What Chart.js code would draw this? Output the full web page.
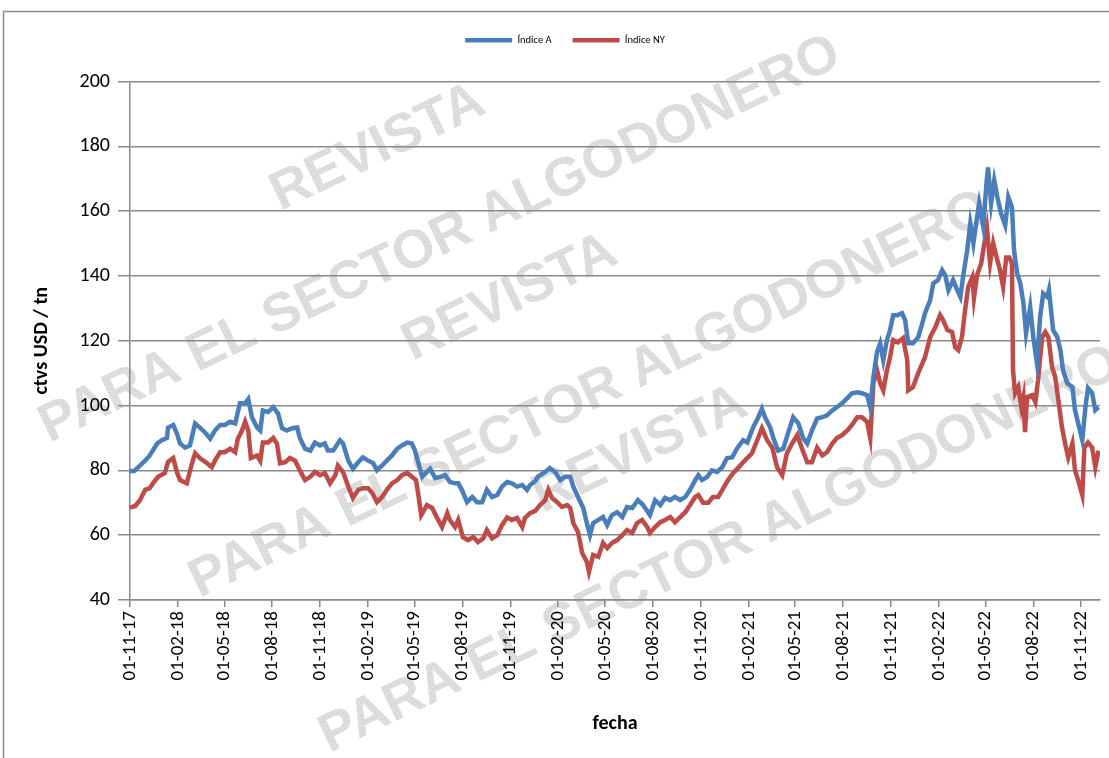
<!DOCTYPE html>
<html>
<head>
<meta charset="utf-8">
<script src="https://cdn.jsdelivr.net/npm/chart.js@4/dist/chart.umd.min.js"></script>
<style>
  body { margin: 0; background: #fff; }
  #wrap { width: 1109px; height: 758px; position: relative; }
</style>
</head>
<body>
<div id="wrap"><canvas id="cotizaciones"></canvas></div>
<script>
// días desde 01-11-17 y valores (ctvs USD)
const diasA = [0, 8, 19, 29, 38, 52, 61, 71, 73, 83, 90, 96, 106, 115, 125, 134, 144, 154, 163, 173, 182, 192, 202, 211, 221, 227, 234, 244, 250, 255, 265, 275, 284, 292, 301, 311, 321, 326, 336, 346, 355, 365, 374, 380, 390, 403, 409, 419, 428, 438, 447, 457, 467, 474, 484, 493, 503, 513, 522, 532, 541, 547, 553, 561, 570, 576, 586, 595, 605, 614, 624, 630, 637, 647, 657, 666, 676, 685, 695, 705, 714, 724, 733, 743, 753, 762, 768, 778, 783, 787, 797, 806, 816, 826, 835, 845, 851, 860, 870, 877, 883, 889, 899, 908, 916, 925, 935, 945, 954, 964, 975, 985, 998, 1008, 1018, 1027, 1037, 1046, 1056, 1066, 1075, 1085, 1091, 1098, 1108, 1117, 1127, 1137, 1146, 1156, 1165, 1177, 1185, 1196, 1206, 1213, 1219, 1229, 1235, 1244, 1254, 1263, 1273, 1283, 1292, 1300, 1309, 1319, 1329, 1338, 1348, 1357, 1367, 1377, 1386, 1396, 1405, 1415, 1421, 1427, 1434, 1440, 1446, 1453, 1459, 1465, 1473, 1482, 1488, 1494, 1503, 1513, 1521, 1526, 1536, 1542, 1551, 1559, 1565, 1571, 1580, 1588, 1594, 1599, 1607, 1613, 1619, 1626, 1630, 1638, 1644, 1647, 1653, 1659, 1665, 1672, 1680, 1686, 1693, 1697, 1703, 1709, 1715, 1720, 1728, 1734, 1741, 1747, 1753, 1761, 1764, 1772, 1780, 1786, 1791, 1799, 1809, 1814, 1820, 1828, 1834, 1839, 1847, 1853, 1859];
const indiceA = [79.8, 79.8, 81.5, 83, 84.6, 88.3, 89.3, 90, 93.2, 94, 91.4, 88.3, 87, 87.7, 94.5, 93.2, 91.7, 89.8, 92.3, 94, 94, 95, 94.5, 100.7, 100.7, 102, 96.4, 93.2, 92.3, 98.5, 98, 99.5, 97.6, 93, 92.3, 93, 93.2, 90, 86.7, 86.1, 88.6, 87.7, 88.3, 86.1, 86.1, 89.3, 88.3, 83, 80.5, 82.5, 84, 83, 82.2, 80, 81.5, 83, 84.6, 86.7, 87.7, 88.6, 88.3, 86.1, 82.5, 78, 79.5, 80.5, 77.6, 78, 78.5, 76.4, 76, 76, 74, 70.2, 71.8, 70.2, 70.2, 74, 71.8, 72.4, 75, 76.4, 76, 75, 75.5, 74, 75.5, 76.7, 78, 78.5, 79.5, 80.7, 79.5, 77, 78, 78, 75, 71.8, 68.4, 63.7, 60, 63.7, 64.7, 65.6, 63.1, 66.2, 67.1, 65.6, 68.7, 68.4, 70.8, 69.3, 66.2, 70.8, 69.3, 71.5, 70.8, 71.8, 70.8, 71.8, 74, 77, 78.5, 77, 78, 80, 79.5, 81, 83.8, 84, 86.7, 89.3, 88.6, 93.2, 96.4, 99, 96.4, 93.2, 90, 86.1, 86.7, 91.4, 96.4, 94.5, 90, 88.3, 92.3, 96, 96.4, 97, 98.5, 99.5, 100.7, 102.3, 103.8, 104.1, 103.8, 103.2, 99.5, 108.8, 116.5, 119.2, 114, 120.2, 123.3, 127.9, 127.9, 128.5, 126.3, 119.2, 119.2, 121.1, 125.4, 128.5, 132.5, 137.7, 138.7, 141.8, 140.2, 135.6, 138.7, 135.6, 133.5, 139.6, 147.9, 156.2, 150.1, 158.1, 162.4, 155.1, 168.5, 173.5, 162.4, 169.5, 164.3, 159.3, 155.6, 164.3, 161.2, 147.9, 140.8, 137.7, 131.6, 122.3, 130.4, 121.1, 113, 127.3, 134.6, 133.5, 135.6, 123.3, 121.1, 117.1, 110.9, 106.9, 105.7, 98.6, 94.6, 89.3, 99.5, 105.4, 103.8, 98.6, 99.5];

const diasNY = [0, 10, 19, 29, 38, 44, 54, 67, 73, 83, 90, 96, 109, 119, 125, 134, 148, 157, 163, 173, 182, 192, 202, 207, 215, 221, 227, 232, 244, 250, 255, 265, 275, 282, 288, 298, 307, 317, 326, 336, 346, 355, 365, 374, 384, 394, 399, 409, 419, 428, 438, 447, 457, 465, 474, 484, 493, 503, 513, 522, 532, 541, 549, 553, 559, 570, 580, 589, 599, 609, 614, 624, 630, 639, 649, 659, 668, 678, 685, 695, 705, 714, 724, 733, 743, 753, 758, 768, 778, 787, 797, 803, 810, 820, 829, 839, 845, 851, 860, 868, 877, 881, 889, 899, 908, 916, 925, 935, 945, 954, 964, 973, 983, 993, 998, 1008, 1018, 1027, 1037, 1046, 1056, 1066, 1075, 1085, 1091, 1100, 1110, 1119, 1129, 1139, 1148, 1158, 1167, 1177, 1194, 1204, 1213, 1223, 1233, 1242, 1252, 1261, 1271, 1281, 1290, 1300, 1309, 1319, 1329, 1338, 1348, 1357, 1367, 1377, 1386, 1396, 1405, 1415, 1421, 1427, 1434, 1440, 1446, 1453, 1459, 1465, 1474, 1484, 1492, 1494, 1503, 1513, 1521, 1526, 1536, 1546, 1555, 1561, 1569, 1578, 1584, 1590, 1597, 1603, 1609, 1617, 1620, 1626, 1634, 1640, 1645, 1651, 1657, 1665, 1670, 1676, 1682, 1688, 1693, 1695, 1699, 1705, 1711, 1715, 1718, 1722, 1732, 1738, 1743, 1751, 1757, 1763, 1770, 1776, 1782, 1789, 1795, 1801, 1809, 1814, 1820, 1828, 1832, 1839, 1847, 1853, 1859];
const indiceNY = [68.5, 69, 70.8, 74, 74.5, 76, 78, 79.2, 82.6, 83.8, 79.5, 77, 76, 82.2, 85.3, 83.8, 82.2, 81, 83, 85.6, 85.6, 86.7, 85.6, 89.8, 92.3, 95, 92.3, 83.8, 84.6, 83, 88.6, 88.6, 90, 88.3, 82.2, 82.5, 83.8, 83, 80, 77, 78, 79.5, 78.5, 79.2, 76, 78.5, 81.5, 79.5, 75, 71.5, 74, 74.5, 74.5, 73, 70.2, 71.8, 74, 76, 77, 78.5, 79.2, 78, 77, 73, 66.2, 69.3, 68.4, 65.5, 62.5, 66.8, 64.7, 62.5, 64.7, 59.4, 58.5, 59.4, 57.9, 59, 61.6, 59, 60, 63.1, 65.5, 64.7, 65.3, 62.5, 65.3, 66.8, 67.5, 69.3, 70.8, 74, 71.5, 70.2, 68.7, 69.3, 68.4, 63.7, 61, 54.5, 51.7, 48.7, 53.9, 53.3, 57.6, 56, 57.6, 58.5, 60, 61.6, 60.7, 63.7, 64.7, 62.5, 60.7, 62.5, 64, 64.7, 65.6, 64, 65.6, 67.1, 69.3, 71.8, 72.4, 70, 70, 71.8, 71.8, 74.5, 77, 79.2, 80.7, 82.5, 85.3, 89.3, 93, 89.3, 87, 81, 78.5, 85.3, 88.3, 90.9, 86.7, 82.5, 82.5, 87, 84.6, 85.6, 88.3, 90, 90.9, 92.3, 94, 96.4, 96.4, 95, 90, 106.9, 110.9, 106.9, 104.7, 110.9, 114.9, 120.2, 119.5, 120.8, 114, 104.7, 105.7, 110, 113, 114.9, 121.1, 124.2, 127.9, 126.3, 123.3, 122.7, 118, 117.1, 121.1, 129.4, 136.6, 139.6, 133.1, 140.2, 143.9, 150.1, 154.7, 143.9, 150.1, 144.8, 141.8, 136.6, 145.7, 145.7, 143.9, 110.9, 103.8, 105.7, 99.5, 102.6, 91.8, 102.6, 103.2, 101.1, 107.8, 121.1, 122.7, 121.1, 111.9, 108.8, 101.7, 93.3, 88.3, 84, 88.3, 80, 77, 72.4, 87, 88.6, 87, 81, 86.1];

// etiquetas del eje x (trimestrales)
const etiquetas = ['01-11-17', '01-02-18', '01-05-18', '01-08-18', '01-11-18', '01-02-19', '01-05-19', '01-08-19', '01-11-19', '01-02-20', '01-05-20', '01-08-20', '01-11-20', '01-02-21', '01-05-21', '01-08-21', '01-11-21', '01-02-22', '01-05-22', '01-08-22', '01-11-22'];

const fuente = 'Carlito, Calibri, "Liberation Sans", Arial, sans-serif';
const gris = '#8a8a8a';

function diaDesdeInicio(txt) {
  const [d, m, a] = txt.split('-').map(Number);
  return Math.round((Date.UTC(2000 + a, m - 1, d) - Date.UTC(2017, 10, 1)) / 86400000);
}
const diasTicks = etiquetas.map(diaDesdeInicio);

const puntosA = diasA.map((d, i) => ({ x: d, y: indiceA[i] }));
const puntosNY = diasNY.map((d, i) => ({ x: d, y: indiceNY[i] }));

// trama punteada para la marca de agua
function tramaGris(ctx) {
  const c = document.createElement('canvas');
  c.width = 3; c.height = 3;
  const g = c.getContext('2d');
  g.fillStyle = '#e4e4e4';
  g.fillRect(0, 0, 3, 3);
  g.fillStyle = '#cdcdcd';
  g.fillRect(0, 0, 1, 1);
  g.fillRect(1, 2, 1, 1);
  g.fillRect(2, 1, 1, 1);
  return ctx.createPattern(c, 'repeat');
}

// marca de agua y borde del área del gráfico
const fondo = {
  id: 'fondo',
  beforeDraw(chart) {
    const ctx = chart.ctx;
    ctx.save();
    ctx.strokeStyle = gris;
    ctx.lineWidth = 1.5;
    ctx.strokeRect(3.5, 11.5, 1300, 900);
    ctx.fillStyle = tramaGris(ctx);
    ctx.font = 'bold 54px "Liberation Sans", Arial, sans-serif';
    ctx.textAlign = 'center';
    ctx.textBaseline = 'middle';
    const textos = [
      ['REVISTA', 378, 148], ['PARA EL SECTOR ALGODONERO', 440, 240],
      ['REVISTA', 510, 298], ['PARA EL SECTOR ALGODONERO', 590, 395],
      ['REVISTA', 640, 450], ['PARA EL SECTOR ALGODONERO', 720, 550]
    ];
    textos.forEach(([t, x, y]) => {
      ctx.save();
      ctx.translate(x, y);
      ctx.rotate(-25.5 * Math.PI / 180);
      ctx.fillText(t, 0, 0);
      ctx.restore();
    });
    ctx.restore();
  }
};

// separa la leyenda del área de trazado
const margenLeyenda = {
  id: 'margenLeyenda',
  beforeInit(chart) {
    const fitOrig = chart.legend.fit;
    chart.legend.fit = function () {
      fitOrig.bind(chart.legend)();
      this.height += 26;
    };
  }
};

new Chart(document.getElementById('cotizaciones'), {
  type: 'line',
  data: {
    datasets: [{
      label: 'Índice A',
      data: puntosA,
      borderColor: '#4a7ebb',
      backgroundColor: '#4a7ebb',
      borderWidth: 4.5,
      pointRadius: 0,
      tension: 0,
      fill: false
    }, {
      label: 'Índice NY',
      data: puntosNY,
      borderColor: '#be4b48',
      backgroundColor: '#be4b48',
      borderWidth: 4.5,
      pointRadius: 0,
      tension: 0,
      fill: false
    }]
  },
  options: {
    responsive: true,
    maintainAspectRatio: false,
    animation: false,
    layout: { padding: { left: 30, right: 9, top: 14, bottom: 0 } },
    plugins: {
      legend: {
        labels: {
          usePointStyle: true,
          pointStyle: 'line',
          pointStyleWidth: 47,
          padding: 21,
          color: '#000',
          font: { family: fuente, size: 10.5 }
        }
      },
      tooltip: { enabled: false }
    },
    scales: {
      x: {
        type: 'linear',
        min: 0,
        max: 1862,
        afterBuildTicks: axis => { axis.ticks = diasTicks.map(v => ({ value: v })); },
        afterFit: axis => { axis.height = 158; },
        ticks: {
          autoSkip: false,
          minRotation: 90,
          maxRotation: 90,
          padding: 4,
          color: '#000',
          font: { family: fuente, size: 19 },
          callback: (v, i) => etiquetas[i]
        },
        grid: { drawOnChartArea: false, drawTicks: true, tickLength: 7, color: gris, lineWidth: 1.5 },
        border: { color: gris, width: 1.5 },
        title: {
          display: true,
          text: 'fecha',
          color: '#000',
          font: { family: fuente, size: 20, weight: 'bold' },
          padding: { top: 0, bottom: 22 }
        }
      },
      y: {
        min: 40,
        max: 200,
        afterFit: axis => { axis.width = 100; },
        ticks: {
          stepSize: 20,
          padding: 8,
          color: '#000',
          font: { family: fuente, size: 20 }
        },
        grid: { color: gris, lineWidth: 1.5, tickLength: 12 },
        border: { color: gris, width: 1.5 },
        title: {
          display: true,
          text: 'ctvs USD / tn',
          color: '#000',
          font: { family: fuente, size: 20, weight: 'bold' },
          padding: { top: 0, bottom: 0 }
        }
      }
    }
  },
  plugins: [fondo, margenLeyenda]
});
</script>
</body>
</html>
